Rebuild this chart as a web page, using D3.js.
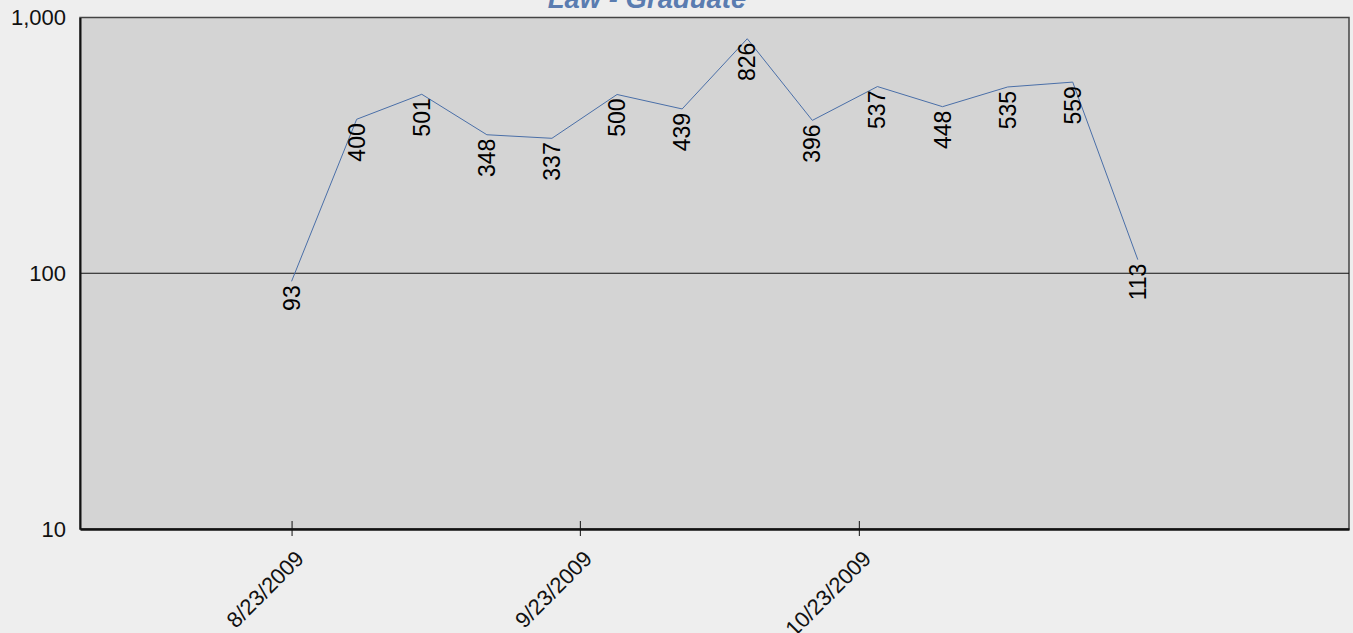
<!DOCTYPE html>
<html>
<head>
  <style>
    body { margin: 0; background: #eeeeee; font-family: "Liberation Sans", Arial, sans-serif; }
    svg { display: block; }
  </style>
</head>
<body>
  <svg id="chart"></svg>
  <script src="https://cdn.jsdelivr.net/npm/d3@7"></script>
  <script>
    var width = 1353, height = 633;
    var plot = { left: 80, top: 17.5, right: 1349, bottom: 529 };

    // data
    var dates = ["2009-08-23", "2009-08-30", "2009-09-06", "2009-09-13", "2009-09-20", "2009-09-27",
      "2009-10-04", "2009-10-11", "2009-10-18", "2009-10-25", "2009-11-01", "2009-11-08",
      "2009-11-15", "2009-11-22"];
    var values = [93, 400, 501, 348, 337, 500, 439, 826, 396, 537, 448, 535, 559, 113];
    var xTicks = ["2009-08-23", "2009-09-23", "2009-10-23"];
    var yTicks = [10, 100, 1000];
    var xRange = ["2009-07-31T06:00", "2009-12-14T17:00"];

    var parse = d3.isoParse;
    var points = dates.map(function (d, i) {
      return { date: parse(d), value: values[i] };
    });

    var svg = d3.select("#chart").attr("width", width).attr("height", height);

    var x = d3.scaleTime()
      .domain(xRange.map(function (d) { return new Date(d); }))
      .range([plot.left, plot.right]);
    var y = d3.scaleLog()
      .domain([10, 1000])
      .range([plot.bottom, plot.top]);

    // plot area
    svg.append("rect")
      .attr("x", plot.left).attr("y", plot.top)
      .attr("width", plot.right - plot.left).attr("height", plot.bottom - plot.top)
      .attr("fill", "#d4d4d4")
      .attr("stroke", "#444").attr("stroke-width", 1.5);

    // gridlines
    svg.append("g").selectAll("line")
      .data(yTicks.slice(1, -1))
      .join("line")
      .attr("x1", plot.left).attr("x2", plot.right)
      .attr("y1", function (d) { return y(d); }).attr("y2", function (d) { return y(d); })
      .attr("stroke", "#111").attr("stroke-width", 1);

    // y axis
    var yAxis = d3.axisLeft(y).tickValues(yTicks).tickFormat(d3.format(",")).tickSize(0).tickPadding(14);
    var gy = svg.append("g").attr("transform", "translate(" + plot.left + ",0)").call(yAxis);
    gy.select(".domain").attr("stroke", "#111").attr("stroke-width", 2);
    gy.selectAll("text").attr("font-size", 22).attr("fill", "#111")
      .attr("font-family", "Liberation Sans, Arial, sans-serif");

    // x axis
    var xAxis = d3.axisBottom(x).tickValues(xTicks.map(function (d) { return parse(d); }))
      .tickSizeInner(7).tickSizeOuter(0).tickFormat(d3.timeFormat("%-m/%-d/%Y"));
    var gx = svg.append("g").attr("transform", "translate(0," + plot.bottom + ")").call(xAxis);
    gx.select(".domain").attr("stroke", "#111").attr("stroke-width", 2.5);
    gx.selectAll(".tick line").attr("y1", -8).attr("y2", 7).attr("stroke", "#111");
    gx.selectAll("text")
      .attr("font-size", 22).attr("fill", "#111")
      .attr("font-family", "Liberation Sans, Arial, sans-serif")
      .attr("text-anchor", "end")
      .attr("y", 0).attr("dy", 0)
      .attr("transform", "translate(13,31) rotate(-45)");

    // line
    var line = d3.line()
      .x(function (d) { return x(d.date); })
      .y(function (d) { return y(d.value); });
    svg.append("path")
      .datum(points)
      .attr("d", line)
      .attr("fill", "none")
      .attr("stroke", "#4a6fa8")
      .attr("stroke-width", 1);

    // data labels
    svg.append("g").selectAll("text")
      .data(points)
      .join("text")
      .attr("transform", function (d) {
        return "translate(" + x(d.date) + "," + (y(d.value) + 4) + ") rotate(-90)";
      })
      .attr("text-anchor", "end")
      .attr("dy", "0.35em")
      .attr("font-size", 23)
      .attr("fill", "#000")
      .text(function (d) { return d.value; });

    // title
    svg.append("text")
      .attr("x", 647).attr("y", 7.5)
      .attr("text-anchor", "middle")
      .attr("font-size", 27.5)
      .attr("font-weight", "bold")
      .attr("font-style", "italic")
      .attr("fill", "#5a7cb0")
      .text("Law - Graduate");
  </script>
</body>
</html>
